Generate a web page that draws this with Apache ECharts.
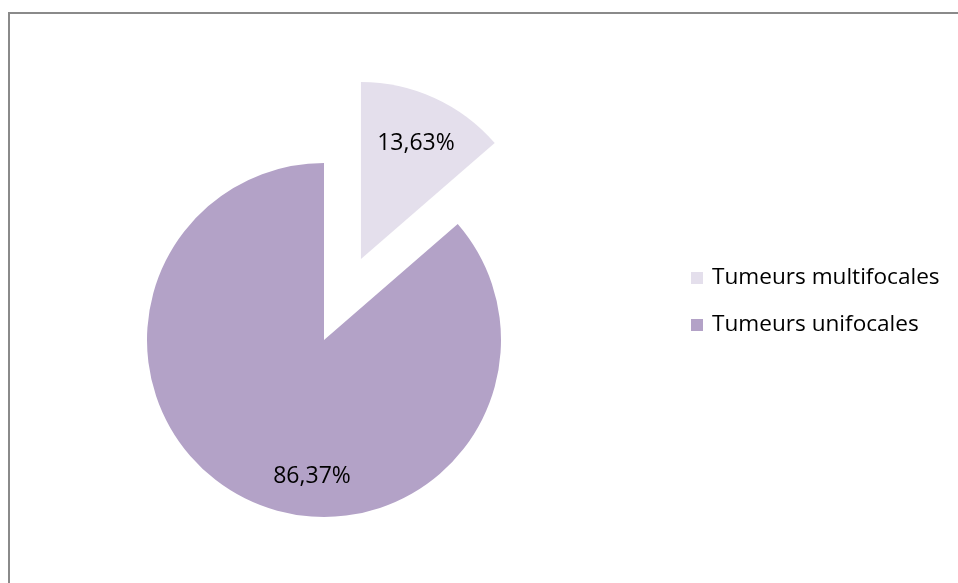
<!DOCTYPE html>
<html>
<head>
<meta charset="utf-8">
<script src="https://cdn.jsdelivr.net/npm/echarts@6/dist/echarts.min.js"></script>
<style>
  html, body { margin: 0; padding: 0; background: #fff; }
  #chart { width: 958px; height: 583px; }
</style>
</head>
<body>
<div id="chart"></div>
<script>
// Share of tumours by focality (percent)
const categories = ['Tumeurs multifocales', 'Tumeurs unifocales'];
const shares = [13.63, 86.37];
const sliceColors = ['#e4dfec', '#b3a2c7'];
// The multifocal slice is pulled out of the pie
const pulledOut = [true, false];

const FONT = '"Open Sans", "Liberation Sans", sans-serif';

const chart = echarts.init(document.getElementById('chart'), null, { renderer: 'canvas' });

const fmt = v => v.toFixed(2).replace('.', ',') + '%';

chart.setOption({
  animation: false,
  backgroundColor: '#ffffff',
  graphic: [{
    type: 'rect',
    shape: { x: 9, y: 13, width: 1200, height: 1200 },
    style: { fill: 'none', stroke: '#8a8a8a', lineWidth: 2 },
    silent: true
  }],
  legend: {
    orient: 'vertical',
    left: 686,
    top: 261,
    itemWidth: 12,
    itemHeight: 12,
    itemGap: 23,
    icon: 'rect',
    selectedMode: false,
    textStyle: { fontFamily: FONT, fontSize: 22.6, color: '#000', lineHeight: 24, padding: [0, 0, 0, 4] },
    data: categories
  },
  series: [{
    type: 'pie',
    center: [324, 340],
    radius: 177,
    startAngle: 90,
    clockwise: true,
    selectedMode: 'multiple',
    selectedOffset: 89,
    emphasis: { disabled: true },
    itemStyle: { borderWidth: 0 },
    label: {
      show: true,
      position: 'inside',
      fontFamily: FONT,
      fontSize: 23,
      color: '#000',
      formatter: p => fmt(p.value)
    },
    labelLine: { show: false },
    labelLayout: p => (p.dataIndex === 0 ? { dx: 17, dy: -32 } : { dx: 26, dy: 53 }),
    data: categories.map((name, i) => ({
      name,
      value: shares[i],
      selected: pulledOut[i],
      itemStyle: { color: sliceColors[i] }
    }))
  }]
});
</script>
</body>
</html>
